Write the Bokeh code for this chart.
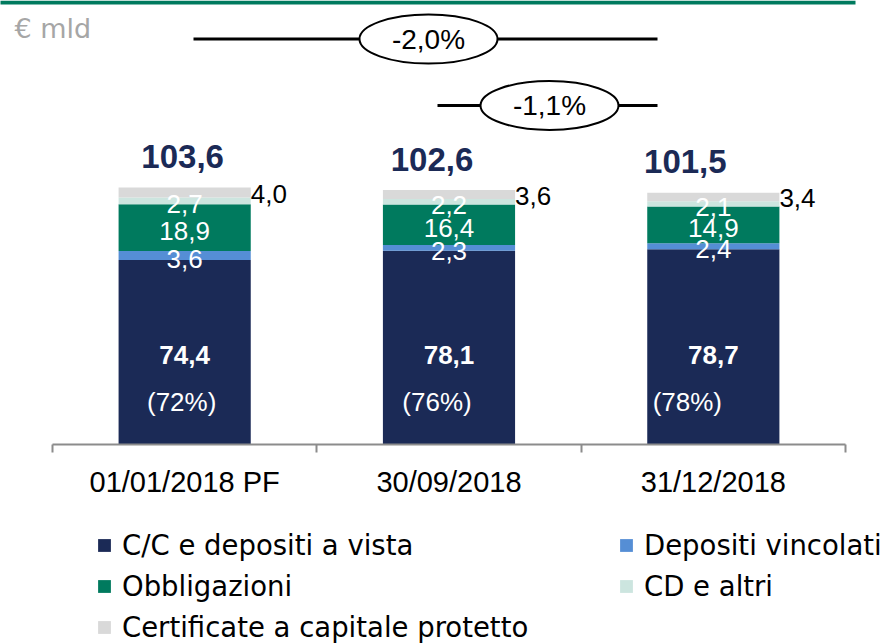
from bokeh.plotting import figure
from bokeh.layouts import column
from bokeh.models import ColumnDataSource, FixedTicker, Range1d, Legend, LegendItem
from bokeh.core.properties import value
from bokeh.embed import file_html
from bokeh.resources import INLINE

# ---------------- data ----------------
categories = ["01/01/2018 PF", "30/09/2018", "31/12/2018"]
cc = [74.4, 78.1, 78.7]
vincolati = [3.6, 2.3, 2.4]
obbligazioni = [18.9, 16.4, 14.9]
cd_altri = [2.7, 2.2, 2.1]
certificate = [4.0, 3.6, 3.4]
shares = ["(72%)", "(76%)", "(78%)"]
series_names = ["C/C e depositi a vista", "Depositi vincolati", "Obbligazioni",
                "CD e altri", "Certificate a capitale protetto"]
changes = ["-2,0%", "-1,1%"]
unit_label = "€ mld"

# ---------------- style ----------------
colors = ["#1B2A56", "#558ED5", "#007A5E", "#CCE5DF", "#D9D9D9"]
NAVY = "#1B2A56"
GREEN = "#007A5E"
NUM_FONT = value("Liberation Sans")
TXT_FONT = "DejaVu Sans"

PX_X = 264.33   # pixels per category
PX_Y = 2.48     # pixels per € bn
FRAME_W, FRAME_H = 888, 444
X0_PX = 52      # position of the axis start inside the frame
CHART_BOTTOM = 80


def rx(px):      # page pixel -> x data
    return (px - X0_PX) / PX_X


def ry(py):      # page pixel -> y data
    return (FRAME_H - py) / PX_Y


def fmt(v):
    return f"{v:.1f}".replace(".", ",")


xs = [i + 0.5 for i in range(len(categories))]
keys = ["cc", "vincolati", "obbligazioni", "cd_altri", "certificate"]
series = [cc, vincolati, obbligazioni, cd_altri, certificate]
src = ColumnDataSource(dict(x=xs, **{k: s for k, s in zip(keys, series)}))

p = figure(frame_width=FRAME_W, frame_height=FRAME_H,
           x_range=Range1d(-X0_PX / PX_X, (FRAME_W - X0_PX) / PX_X),
           y_range=Range1d(0, FRAME_H / PX_Y),
           y_axis_location=None, output_backend="svg", toolbar_location=None,
           min_border_left=0, min_border_right=0, min_border_top=0,
           min_border_bottom=CHART_BOTTOM)
p.xgrid.visible = False
p.ygrid.visible = False
p.outline_line_color = None
p.background_fill_color = "white"

rs = p.vbar_stack(keys, x="x", width=0.5, source=src, fill_color=colors, line_color=None)

# x axis
ax = p.xaxis[0]
ax.ticker = FixedTicker(ticks=xs, minor_ticks=[0, 1, 2, 3])
ax.major_label_overrides = {x: c for x, c in zip(xs, categories)}
ax.bounds = (0, 3)
ax.axis_line_color = "#8C8C8C"
ax.axis_line_width = 2
ax.major_tick_line_color = None
ax.major_tick_out = 0
ax.major_tick_in = 0
ax.minor_tick_line_color = "#8C8C8C"
ax.minor_tick_line_width = 2
ax.minor_tick_out = 8
ax.minor_tick_in = 0
ax.major_label_standoff = 13
ax.major_label_text_font = "Liberation Sans"
ax.major_label_text_font_size = "29px"
ax.major_label_text_color = "#000000"

# top green rule
p.quad(left=[rx(-10)], right=[rx(855)], top=[FRAME_H / PX_Y], bottom=[FRAME_H / PX_Y - 4 / PX_Y],
       fill_color=GREEN, line_color=None)

# unit label
p.text(x=[rx(14)], y=[ry(28)], text=[unit_label], text_font=value(TXT_FONT),
       text_font_size="27px", text_color="#A6A6A6", text_align="left", text_baseline="middle")

# change brackets
line_y = [ry(38.5), ry(105)]
line_x0 = [rx(193), rx(437)]
line_x1 = [rx(657), rx(657)]
oval_x = [rx(428), rx(549)]
p.segment(x0=line_x0, y0=line_y, x1=line_x1, y1=line_y, line_color="black", line_width=3)
p.ellipse(x=oval_x, y=line_y, width=138 / PX_X, height=49 / PX_Y,
          fill_color="white", line_color="black", line_width=2)
p.text(x=oval_x, y=line_y, text=changes, text_font=NUM_FONT, text_font_size="28px",
       text_color="black", text_align="center", text_baseline="middle")

# totals
totals = [sum(v) for v in zip(*series)]
total_dx = [-2, -17, -28]
p.text(x=[x + d / PX_X for x, d in zip(xs, total_dx)], y=[t + 12.5 for t in totals],
       text=[fmt(t) for t in totals], text_font=NUM_FONT, text_font_style="bold",
       text_font_size="33px", text_color=NAVY, text_align="center", text_baseline="middle")

# C/C labels
p.text(x=xs, y=[36] * 3, text=[fmt(v) for v in cc], text_font=NUM_FONT, text_font_style="bold",
       text_font_size="26px", text_color="white", text_align="center", text_baseline="middle")
share_dx = [-3, -12, -26]
p.text(x=[x + d / PX_X for x, d in zip(xs, share_dx)], y=[17] * 3, text=shares, text_font=NUM_FONT,
       text_font_size="26px", text_color="white", text_align="center", text_baseline="middle")

# inner segment labels (Depositi, Obbligazioni, CD)
lx, ly, lt = [], [], []
for i, x in enumerate(xs):
    base = cc[i]
    for s in (vincolati, obbligazioni, cd_altri):
        lx.append(x)
        ly.append(base + s[i] / 2 - 1.2)
        lt.append(fmt(s[i]))
        base += s[i]
p.text(x=lx, y=ly, text=lt, text_font=NUM_FONT, text_font_size="26px", text_color="white",
       text_align="center", text_baseline="middle")

# certificate labels (right of the bar)
p.text(x=[x + 0.25 for x in xs], y=[t - c / 2 - 0.4 for t, c in zip(totals, certificate)],
       text=[fmt(v) for v in certificate], text_font=NUM_FONT, text_font_size="26px",
       text_color="black", text_align="left", text_baseline="middle")

# ---------------- legend (own small figure under the chart) ----------------
LEG_LEFT = 96
lp = figure(frame_width=FRAME_W, frame_height=119,
            x_range=Range1d(0, 1), y_range=Range1d(0, 1),
            x_axis_location=None, y_axis_location=None, output_backend="svg",
            toolbar_location=None, min_border_left=0, min_border_right=0,
            min_border_top=0, min_border_bottom=0)
lp.xgrid.visible = False
lp.ygrid.visible = False
lp.outline_line_color = None
# zero-height swatch renderers; they only feed the legend
legend_rs = [lp.vbar(x=[0.5], top=[0], bottom=[0], width=0.1, fill_color=c, line_color=None)
             for c in colors]
items = [LegendItem(label=n, renderers=[r]) for n, r in zip(series_names, legend_rs)]
legend = Legend(items=items, orientation="horizontal", ncols=2, location=(LEG_LEFT, 0),
                label_text_font=TXT_FONT, label_text_font_size="27.5px", label_text_color="black",
                glyph_width=16, glyph_height=16, label_standoff=10, spacing=8, label_width=488,
                label_height=33, padding=0, margin=0, border_line_color=None,
                background_fill_alpha=0)
lp.add_layout(legend, "center")

layout = column(p, lp, spacing=0)
open("out.html", "w").write(file_html(layout, INLINE))
